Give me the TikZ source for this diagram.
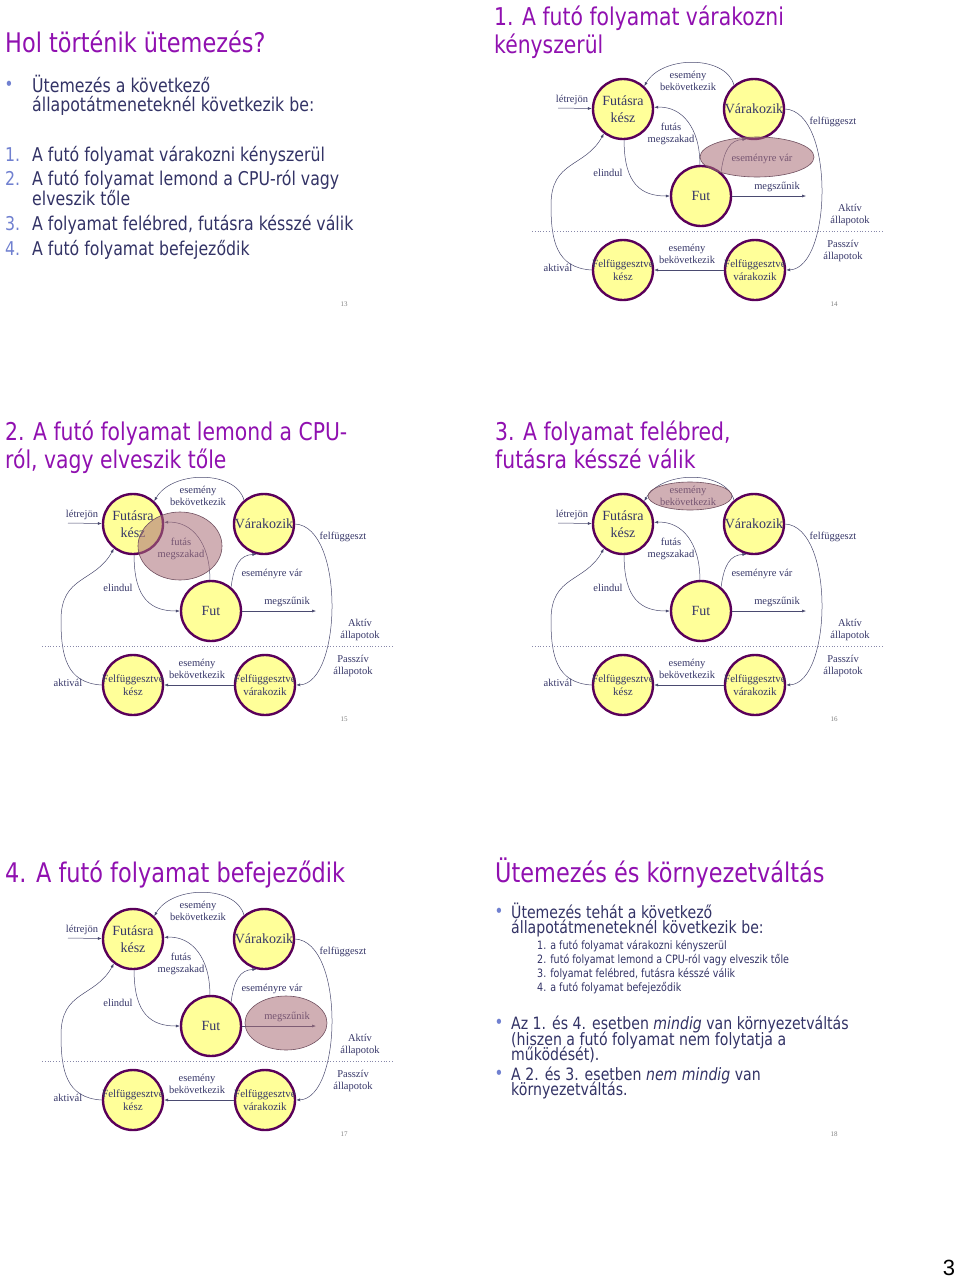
\documentclass[tikz,border=0pt]{standalone}
\usepackage{fontspec}
\setmainfont{Liberation Serif}
\newfontfamily\slidefont{DejaVu Sans}[FakeStretch=0.83]
\newfontfamily\pagefont{Liberation Sans}
\usepackage{tikz}
\usetikzlibrary{
  arrows.meta,
  positioning
}
\usepackage{xcolor}
\definecolor{titlepurple}{HTML}{9010B0}
\definecolor{bodynavy}{HTML}{333366}
\definecolor{bulletblue}{HTML}{7080D0}
\definecolor{labelnavy}{HTML}{363668}
\definecolor{statefill}{HTML}{FFFF99}
\definecolor{stateline}{HTML}{5A005A}
\definecolor{arcgray}{HTML}{4A4A70}
\definecolor{sepgray}{HTML}{8888AA}
\definecolor{hilitefill}{RGB}{170,110,120}
\definecolor{hiliteline}{HTML}{705060}
\tikzset{
  state/.style={
    circle, draw=stateline, fill=statefill, line width=2.4pt,
    minimum size=60pt, inner sep=-5pt, align=center,
    text=labelnavy, font=\fontsize{14}{16.5}\selectfont
  },
  susstate/.style={state, font=\fontsize{11}{12.5}\selectfont},
  trans/.style={-{Latex[length=4pt, width=3pt]}, draw=arcgray, line width=0.5pt},
  lbl/.style={align=center, text=labelnavy, inner sep=0pt, font=\fontsize{10.5}{12.5}\selectfont},
  sepline/.style={draw=sepgray, dotted, line width=0.8pt},
  hilite/.style={draw=hiliteline, fill=hilitefill, fill opacity=0.55, line width=0.6pt},
  pagenum/.style={text=gray, inner sep=0pt, font=\fontsize{7}{8}\selectfont},
}

% one state diagram: shift x, shift y, highlight centre x, y, radii x, y, page
\newcommand{\stategraph}[7]{%
\begin{scope}[shift={(#1,#2)}]
  % states
  \node[state] (ready) at (133,109) {Futásra\\kész};
  \node[state] (wait) at (264,109) {Várakozik};
  \node[state] (run) at (211,196) {Fut};
  \node[susstate] (susready) at (133,270) {Felfüggesztve\\kész};
  \node[susstate] (suswait) at (265,270) {Felfüggesztve\\várakozik};
  \coordinate (born) at (68,108);
  \coordinate (gone) at (316,196);
  \coordinate (sepA) at (42,231);
  \coordinate (sepB) at (393,231);
  % transitions
  \draw[trans] (born) -- (ready);
  \draw[trans] (wait.130) .. controls (236,55) and (172,55) .. (ready.47);
  \draw[trans] (run.92) .. controls (210,128) and (192,106) .. (ready.3);
  \draw[trans] (ready.272) .. controls (134,185) and (152,196) .. (run.west);
  \draw[trans] (run.50) .. controls (234,150) and (240,140) .. (wait.256);
  \draw[trans] (run.east) -- (gone);
  \draw[trans] (wait.east) .. controls (345,112) and (342,268) .. (suswait.east);
  \draw[trans] (suswait.west) -- (susready.east);
  \draw[trans] (susready.west) .. controls (66,268) and (61,240) .. (61,205)
    .. controls (61,160) and (95,168) .. (ready.232);
  % labels
  \node[lbl] (lborn) at (82,100) {létrejön};
  \node[lbl] (lwake) at (198,81) {esemény\\bekövetkezik};
  \node[lbl] (lpreempt) at (181,134) {futás\\megszakad};
  \node[lbl] (lstart) at (118,173) {elindul};
  \node[lbl] (lblock) at (272,159) {eseményre vár};
  \node[lbl] (lexit) at (287,187) {megszűnik};
  \node[lbl] (lsuspend) at (343,122) {felfüggeszt};
  \node[lbl] (lswake) at (197,254) {esemény\\bekövetkezik};
  \node[lbl] (lresume) at (68,268) {aktivál};
  % active / passive split
  \draw[sepline] (sepA) -- (sepB);
  \node[lbl] (lactive) at (360,215) {Aktív\\állapotok};
  \node[lbl] (lpassive) at (353,251) {Passzív\\állapotok};
  % highlighted transition
  \draw[hilite] (#3,#4) ellipse [x radius=#5, y radius=#6];
  \node[pagenum] (pg#7) at (344,304) {#7};
\end{scope}}

\begin{document}
\begin{tikzpicture}[
  x=1pt, y=-1pt,
  slidetitle/.style={anchor=base west, inner sep=0pt, text=titlepurple, font=\slidefont\fontsize{27}{30}\selectfont},
  subtitle/.style={slidetitle, font=\slidefont\fontsize{24.5}{28}\selectfont},
  bodytext/.style={anchor=base west, inner sep=0pt, text=bodynavy, font=\slidefont\fontsize{19}{20}\selectfont},
  numtext/.style={bodytext, text=bulletblue},
  bullet/.style={inner sep=0pt, text=bulletblue, font=\slidefont\fontsize{18}{18}\selectfont},
  smalltext/.style={bodytext, font=\slidefont\fontsize{17}{17}\selectfont},
  subtext/.style={bodytext, font=\slidefont\fontsize{11.5}{14}\selectfont},
]
\useasboundingbox[fill=white] (0,0) rectangle (960,1280);

% slide 13
\node[slidetitle] (t13) at (5,52) {Hol történik ütemezés?};
\node[bullet] (b13) at (9,86) {•};
\node[bodytext] (s13a) at (32,92) {Ütemezés a következő};
\node[bodytext] (s13b) at (32,111) {állapotátmeneteknél következik be:};
\foreach \num/\yy/\txt in {1/161/A futó folyamat várakozni kényszerül,
    2/185/A futó folyamat lemond a CPU-ról vagy,
    3/230/{A folyamat felébred, futásra késszé válik},
    4/255/A futó folyamat befejeződik} {
  \node[numtext] (n13\num) at (5,\yy) {\num.};
  \node[bodytext] (i13\num) at (32,\yy) {\txt};
}
\node[bodytext] (i13c) at (32,205) {elveszik tőle};
\node[pagenum] (pg13) at (344,304) {13};

% slide 14
\node[subtitle] (t14a) at (494,25) {1. A futó folyamat várakozni};
\node[subtitle] (t14b) at (494,53) {kényszerül};
\stategraph{490}{0}{267}{157}{57}{20}{14}

% slide 15
\node[subtitle] (t15a) at (5,440) {2. A futó folyamat lemond a CPU-};
\node[subtitle] (t15b) at (5,468) {ról, vagy elveszik tőle};
\stategraph{0}{415}{180}{131}{42}{34}{15}

% slide 16
\node[subtitle] (t16a) at (495,440) {3. A folyamat felébred,};
\node[subtitle] (t16b) at (495,468) {futásra késszé válik};
\stategraph{490}{415}{200}{81}{42}{14}{16}

% slide 17
\node[slidetitle] (t17) at (5,882) {4. A futó folyamat befejeződik};
\stategraph{0}{830}{286}{193}{41}{27}{17}

% slide 18
\node[slidetitle] (t18) at (495,882) {Ütemezés és környezetváltás};
\node[bullet] (b18a) at (499,913) {•};
\node[smalltext] (s18a) at (511,918) {Ütemezés tehát a következő};
\node[smalltext] (s18b) at (511,933) {állapotátmeneteknél következik be:};
\node[subtext] (s18c) at (537,949) {1. a futó folyamat várakozni kényszerül};
\node[subtext] (s18d) at (537,963) {2. futó folyamat lemond a CPU-ról vagy elveszik tőle};
\node[subtext] (s18e) at (537,977) {3. folyamat felébred, futásra késszé válik};
\node[subtext] (s18f) at (537,991) {4. a futó folyamat befejeződik};
\node[bullet] (b18b) at (499,1024) {•};
\node[smalltext] (s18g) at (511,1029) {Az 1. és 4. esetben \textit{mindig} van környezetváltás};
\node[smalltext] (s18h) at (511,1045) {(hiszen a futó folyamat nem folytatja a};
\node[smalltext] (s18i) at (511,1060) {működését).};
\node[bullet] (b18c) at (499,1075) {•};
\node[smalltext] (s18j) at (511,1080) {A 2. és 3. esetben \textit{nem mindig} van};
\node[smalltext] (s18k) at (511,1095) {környezetváltás.};
\node[pagenum] (pg18) at (834,1134) {18};

% sheet number
\node[inner sep=0pt, font=\pagefont\fontsize{22}{24}\selectfont] (sheet) at (949,1268) {3};

\end{tikzpicture}
\end{document}
